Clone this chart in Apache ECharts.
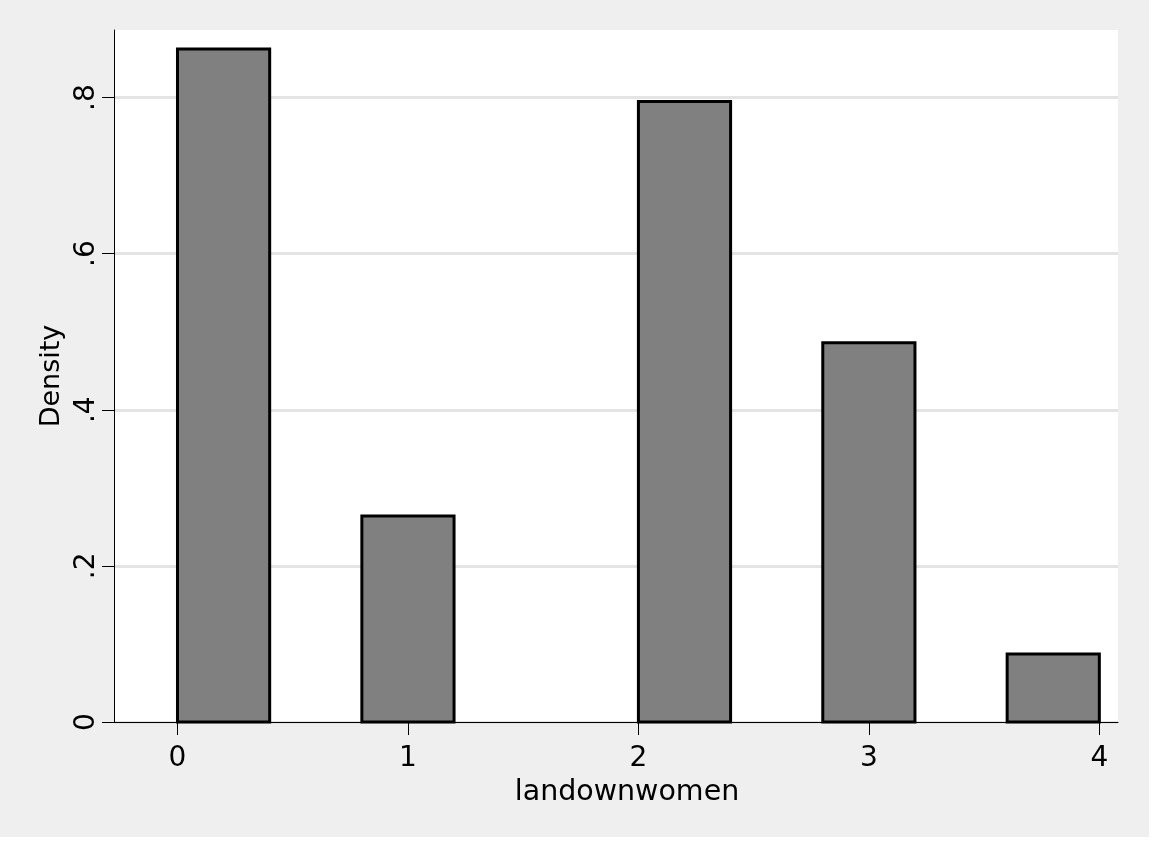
<!DOCTYPE html>
<html>
<head>
<meta charset="utf-8">
<script src="https://cdn.jsdelivr.net/npm/echarts@6/dist/echarts.min.js"></script>
<style>
  html, body { margin: 0; padding: 0; background: #ffffff; }
  #chart { width: 1149px; height: 837px; }
</style>
</head>
<body>
<div id="chart"></div>
<script>
// Histogram of landownwomen: bins of width 0.4 starting at 0
const binStarts = [0, 0.4, 0.8, 1.2, 1.6, 2.0, 2.4, 2.8, 3.2, 3.6];
const binWidth = 0.4;
const density = [0.862, 0, 0.264, 0, 0, 0.795, 0, 0.486, 0, 0.087];

const xTickValues = [0, 1, 2, 3, 4];
const xTickLabels = ['0', '1', '2', '3', '4'];
const yTickValues = [0, 0.2, 0.4, 0.6, 0.8];
const yTickLabels = ['0', '.2', '.4', '.6', '.8'];

const xTitle = 'landownwomen';
const yTitle = 'Density';

const seriesData = binStarts.map((s, i) => [s, s + binWidth, density[i]]);

const FONT = 'DejaVu Sans';
const chart = echarts.init(document.getElementById('chart'));
chart.setOption({
  backgroundColor: '#efefef',
  animation: false,
  grid: {
    left: 114, top: 30, width: 1004, height: 692,
    show: true, backgroundColor: '#ffffff', borderWidth: 0
  },
  xAxis: {
    type: 'value',
    min: -0.2755, max: 4.081,
    name: xTitle,
    nameLocation: 'middle',
    nameGap: 52,
    nameTextStyle: { fontFamily: FONT, fontSize: 28.5, color: '#000', padding: [0, 0, 0, 22] },
    axisLine: { show: true, onZero: false, lineStyle: { color: '#000', width: 1 } },
    axisTick: { show: true, length: 13, customValues: xTickValues, lineStyle: { color: '#000', width: 1 } },
    axisLabel: {
      customValues: xTickValues,
      margin: 23,
      fontFamily: FONT, fontSize: 28, color: '#000',
      formatter: v => xTickLabels[xTickValues.indexOf(v)] ?? ''
    },
    splitLine: { show: false }
  },
  yAxis: {
    type: 'value',
    min: 0, max: 0.8865,
    interval: 0.2,
    name: yTitle,
    nameLocation: 'middle',
    nameGap: 37,
    nameTextStyle: { fontFamily: FONT, fontSize: 27, color: '#000' },
    axisLine: { show: true, onZero: false, lineStyle: { color: '#000', width: 1 } },
    axisTick: { show: true, length: 12, customValues: yTickValues, lineStyle: { color: '#000', width: 1 } },
    axisLabel: {
      customValues: yTickValues,
      rotate: 90,
      margin: 13,
      fontFamily: FONT, fontSize: 28, color: '#000',
      formatter: v => {
        const i = yTickValues.findIndex(t => Math.abs(t - v) < 1e-9);
        return i >= 0 ? yTickLabels[i] : '';
      }
    },
    splitLine: { show: true, lineStyle: { color: '#e4e4e4', width: 3 } }
  },
  series: [{
    type: 'custom',
    data: seriesData,
    encode: { x: [0, 1], y: 2 },
    renderItem: function (params, api) {
      const h = api.value(2);
      if (!(h > 0)) return null;
      const p0 = api.coord([api.value(0), 0]);
      const p1 = api.coord([api.value(1), h]);
      return {
        type: 'rect',
        shape: { x: p0[0], y: p1[1], width: p1[0] - p0[0], height: p0[1] - p1[1] },
        style: { fill: '#808080', stroke: '#000', lineWidth: 3 }
      };
    }
  }]
});
</script>
</body>
</html>
